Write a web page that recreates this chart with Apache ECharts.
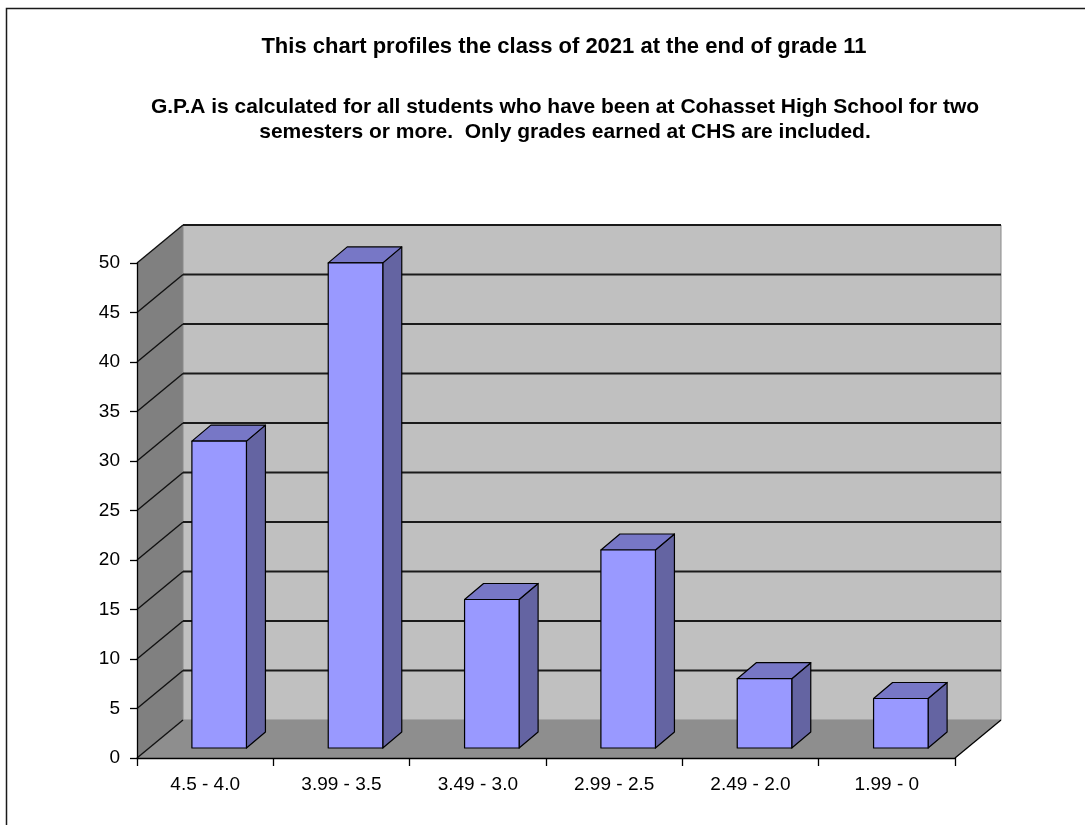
<!DOCTYPE html>
<html>
<head>
<meta charset="utf-8">
<script src="https://cdn.jsdelivr.net/npm/echarts@6/dist/echarts.min.js"></script>
<style>
html,body{margin:0;padding:0;background:#fff;}
#chart{width:1085px;height:825px;}
</style>
</head>
<body>
<div id="chart"></div>
<script>
const categories = ['4.5 - 4.0', '3.99 - 3.5', '3.49 - 3.0', '2.99 - 2.5', '2.49 - 2.0', '1.99 - 0'];
const students = [31, 49, 15, 20, 7, 5];
const yTicks = [0, 5, 10, 15, 20, 25, 30, 35, 40, 45, 50];
const titleLine1 = 'This chart profiles the class of 2021 at the end of grade 11';
const titleLine2 = 'G.P.A is calculated for all students who have been at Cohasset High School for two';
const titleLine3 = 'semesters or more.  Only grades earned at CHS are included.';

const FONT = '"Liberation Sans", Arial, sans-serif';
const DEPTH = [46, -38];      // projection of the box depth
const BAR_FRONT = [14, -10];  // bar front-face offset into the box
const BAR_DEPTH = [19, -16];  // bar depth

const chart = echarts.init(document.getElementById('chart'));

function renderWalls(params, api) {
  const cs = params.coordSys;
  const x0 = cs.x, x1 = cs.x + cs.width;
  const yb = api.coord([0, yTicks[0]])[1];
  const yt = api.coord([0, yTicks[yTicks.length - 1]])[1];
  const dx = DEPTH[0], dy = DEPTH[1];
  const children = [];
  children.push({type: 'polygon', shape: {points: [[x0, yb], [x0 + dx, yb + dy], [x0 + dx, yt + dy], [x0, yt]]},
    style: {fill: '#808080', stroke: null}});
  children.push({type: 'rect', shape: {x: x0 + dx, y: yt + dy, width: x1 - x0, height: yb - yt},
    style: {fill: '#c0c0c0', stroke: '#8a8a8a', lineWidth: 1}});
  children.push({type: 'polygon', shape: {points: [[x0, yb], [x1, yb], [x1 + dx, yb + dy], [x0 + dx, yb + dy]]},
    style: {fill: '#8e8e8e', stroke: null}});
  yTicks.forEach(function (v) {
    const y = api.coord([0, v])[1];
    children.push({type: 'line', shape: {x1: x0, y1: y, x2: x0 + dx, y2: y + dy},
      style: {stroke: '#111', lineWidth: 1.4}});
    if (v > 0) {
      children.push({type: 'line', shape: {x1: x0 + dx, y1: y + dy, x2: x1 + dx, y2: y + dy},
        style: {stroke: '#1a1a1a', lineWidth: 1.8}});
    }
  });
  children.push({type: 'line', shape: {x1: x1, y1: yb, x2: x1 + dx, y2: yb + dy},
    style: {stroke: '#000', lineWidth: 1.3}});
  return {type: 'group', children: children};
}

function renderBar(params, api) {
  const i = api.value(0), v = api.value(1);
  const top = api.coord([i, v]);
  const base = api.coord([i, 0]);
  const w = api.size([1, 0])[0] * 0.4;
  const left = top[0] - w / 2 + BAR_FRONT[0];
  const right = left + w;
  const yT = top[1] + BAR_FRONT[1];
  const yB = base[1] + BAR_FRONT[1];
  const bx = BAR_DEPTH[0], by = BAR_DEPTH[1];
  const st = {stroke: '#000', lineWidth: 1.2, lineJoin: 'round'};
  return {type: 'group', children: [
    {type: 'polygon', shape: {points: [[right, yT], [right + bx, yT + by], [right + bx, yB + by], [right, yB]]},
      style: Object.assign({fill: '#6464a2'}, st)},
    {type: 'polygon', shape: {points: [[left, yT], [left + bx, yT + by], [right + bx, yT + by], [right, yT]]},
      style: Object.assign({fill: '#7777c6'}, st)},
    {type: 'rect', shape: {x: left, y: yT, width: w, height: yB - yT},
      style: Object.assign({fill: '#9999ff'}, st)}
  ]};
}

const option = {
  backgroundColor: '#ffffff',
  animation: false,
  graphic: [
    {type: 'rect', shape: {x: 6.5, y: 8.5, width: 1200, height: 1000}, style: {fill: null, stroke: '#1a1a1a', lineWidth: 1.5}, z: 0},
    {type: 'text', x: 564, y: 47, style: {text: titleLine1, font: 'bold 22px ' + FONT, fill: '#000', textAlign: 'center', textVerticalAlign: 'middle'}},
    {type: 'text', x: 565, y: 107, style: {text: titleLine2, font: 'bold 21px ' + FONT, fill: '#000', textAlign: 'center', textVerticalAlign: 'middle'}},
    {type: 'text', x: 565, y: 132, style: {text: titleLine3, font: 'bold 21px ' + FONT, fill: '#000', textAlign: 'center', textVerticalAlign: 'middle'}}
  ],
  grid: {left: 137, top: 263, width: 818, height: 495, containLabel: false},
  xAxis: {
    type: 'category',
    data: categories,
    z: 10,
    axisLine: {show: true, lineStyle: {color: '#000', width: 1.3}},
    axisTick: {show: true, length: 8, lineStyle: {color: '#000', width: 1.3}},
    axisLabel: {color: '#000', fontSize: 19, fontFamily: FONT, margin: 17},
    splitLine: {show: false}
  },
  yAxis: {
    type: 'value',
    min: 0, max: 50, interval: 5,
    z: 10,
    axisLine: {show: true, lineStyle: {color: '#000', width: 1.3}},
    axisTick: {show: true, length: 7, lineStyle: {color: '#000', width: 1.3}},
    axisLabel: {color: '#000', fontSize: 19, fontFamily: FONT, margin: 17},
    splitLine: {show: false}
  },
  series: [
    {type: 'custom', name: 'walls', renderItem: renderWalls, data: [[0, 0]], z: 1, silent: true, clip: false},
    {type: 'custom', name: 'Students', renderItem: renderBar, data: students.map(function (v, i) { return [i, v]; }), z: 3, clip: false}
  ]
};
chart.setOption(option);
</script>
</body>
</html>
